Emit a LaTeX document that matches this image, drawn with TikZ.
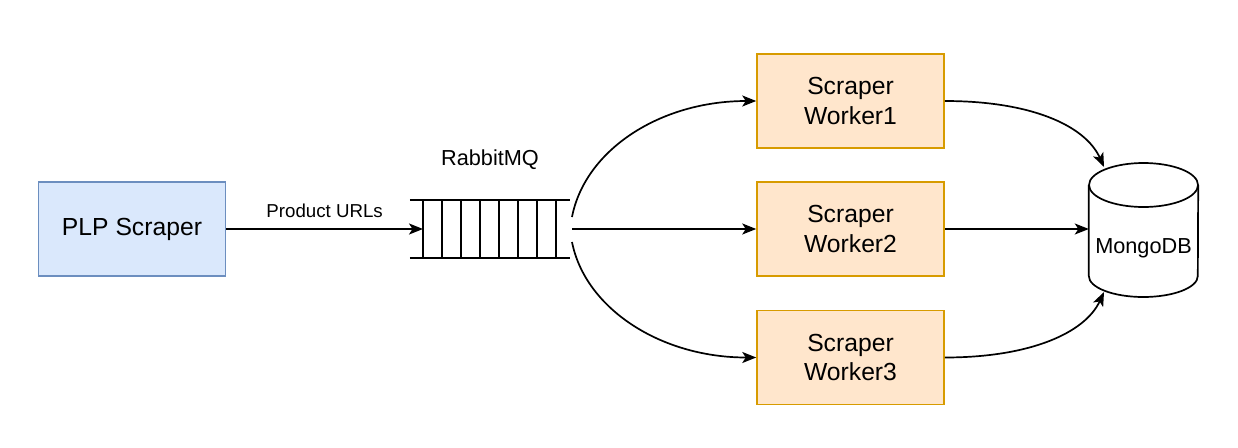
\documentclass[tikz,border=0pt]{standalone}
\usepackage{fontspec}
\setmainfont{Liberation Sans}
\usetikzlibrary{arrows.meta}
\definecolor{plpfill}{HTML}{DAE8FC}
\definecolor{plpline}{HTML}{6C8EBF}
\definecolor{workerfill}{HTML}{FFE6CC}
\definecolor{workerline}{HTML}{D79B00}
\tikzset{
    box/.style={draw, line width=1.5pt, minimum width=187pt, minimum height=94pt,
        inner sep=0pt, align=center, font=\fontsize{24.7}{29.6}\selectfont},
    plpbox/.style={box, draw=plpline, fill=plpfill},
    workerbox/.style={box, draw=workerline, fill=workerfill},
    qline/.style={line width=1.7pt},
    link/.style={line width=1.7pt, -{Stealth[length=14pt,width=11pt,inset=3.5pt]}},
}
\def\Worker(#1) at (#2, #3) #4; {
    \node[workerbox] (#1) at (#2, #3) {Scraper\\Worker#4};
}

\begin{document}
\begin{tikzpicture}[x=1pt, y=-1pt]
        \useasboundingbox (0, 0) rectangle (1238, 447);
        \node[plpbox] (plp) at (132, 229) {PLP Scraper};
        \node[minimum width=160pt, minimum height=58pt, inner sep=0pt] (queue) at (490, 229) {}; % RabbitMQ queue
        \draw[qline] (queue.north west) -- (queue.north east);
        \draw[qline] (queue.south west) -- (queue.south east);
        \foreach \i in {0,...,7}
            \draw[qline] (423 + 19*\i, 200) -- (423 + 19*\i, 258);
        \node[font=\fontsize{21.7}{26}\selectfont] (mqlabel) at (490, 160) {RabbitMQ};
        \Worker(w1) at (850.5, 101) 1;
        \Worker(w2) at (850.5, 229) 2;
        \Worker(w3) at (850.5, 357.5) 3;
        % MongoDB cylinder
        \node[minimum width=109pt, minimum height=134pt, inner sep=0pt] (db) at (1143.5, 230) {};
        \draw[qline] (1143.5, 185) ellipse[x radius=54.5, y radius=22];
        \draw[qline] (db.west |- 0, 185) -- (db.west |- 0, 276)
            arc[start angle=180, end angle=0, x radius=54.5, y radius=21] -- (db.east |- 0, 185);
        \node[font=\fontsize{21.7}{26}\selectfont] (dblabel) at (1143.5, 248) {MongoDB};
        \coordinate (qin) at (423, 229);
        \coordinate (qout1) at (572, 217);
        \coordinate (qout2) at (572, 229);
        \coordinate (qout3) at (572, 242);
        \coordinate (dbin1) at (1104, 167);
        \coordinate (dbin3) at (1104, 292);
        \draw[link] (plp.east) -- (qin)
            node[midway, above=7pt, font=\fontsize{18.7}{22}\selectfont] {Product URLs};
        \draw[link] (qout1) .. controls (585, 150) and (660, 101) .. (w1.west);
        \draw[link] (qout2) -- (w2.west);
        \draw[link] (qout3) .. controls (585, 308) and (660, 357.5) .. (w3.west);
        \draw[link] (w1.east) .. controls (1030, 101) and (1085, 125) .. (dbin1);
        \draw[link] (w2.east) -- (db.west |- w2.east);
        \draw[link] (w3.east) .. controls (1030, 357.5) and (1085, 333) .. (dbin3);
    \end{tikzpicture}
\end{document}
